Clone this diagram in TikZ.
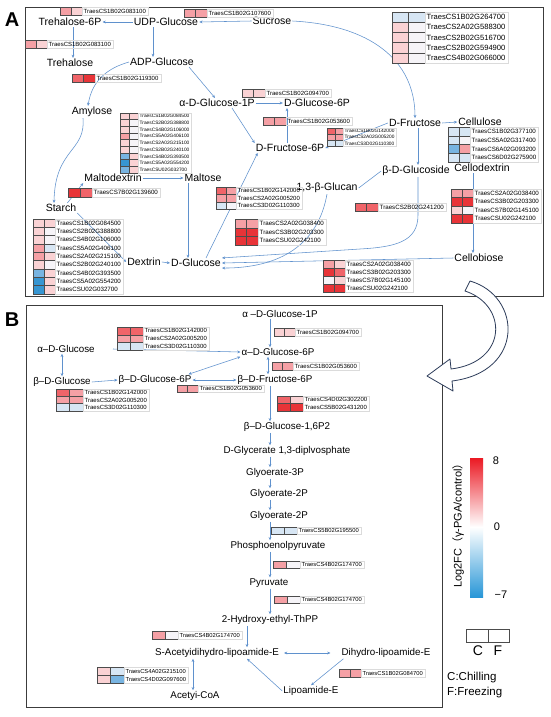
\documentclass[tikz,border=0pt]{standalone}
\usepackage{fontspec}
\setmainfont{Liberation Sans}
\newfontfamily\cjkfont{Noto Sans CJK SC}
\usetikzlibrary{arrows.meta}
\definecolor{hR3}{RGB}{232,52,56}
\definecolor{hR2}{RGB}{240,100,105}
\definecolor{hR1}{RGB}{245,160,165}
\definecolor{hR0}{RGB}{250,210,212}
\definecolor{hW}{RGB}{246,244,248}
\definecolor{hB0}{RGB}{215,230,244}
\definecolor{hB1}{RGB}{120,180,225}
\definecolor{hB2}{RGB}{55,150,210}
\definecolor{conn}{RGB}{95,145,205}
\definecolor{frameC}{RGB}{60,60,60}
\definecolor{bigarrow}{RGB}{45,60,90}
\definecolor{cbR}{RGB}{235,25,35}
\definecolor{cbB}{RGB}{40,150,215}
\tikzset{
 met/.style={font=\fontsize{10.5}{12}\selectfont, inner sep=1pt},
 metb/.style={font=\fontsize{9.8}{11}\selectfont, inner sep=1pt},
 con/.style={draw=conn, line width=0.55pt, -{Stealth[length=3.2pt,width=2.8pt]}},
 dcon/.style={draw=conn, line width=0.55pt, {Stealth[length=3.2pt,width=2.8pt]}-{Stealth[length=3.2pt,width=2.8pt]}},
 pcon/.style={draw=conn, line width=0.55pt},
 cellline/.style={draw=black!70, line width=0.4pt},
 genelab/.style={anchor=west, inner sep=0pt},
 labbox/.style={draw=black!14, line width=0.3pt},
 panelframe/.style={draw=frameC, line width=0.8pt},
 panellab/.style={font=\fontsize{20}{22}\selectfont\bfseries},
}
% heatmap: x y cellw cellh fontsize nrows list
\newcommand{\hmap}[7]{%
 \foreach [count=\i] \cL/\cR/\lab in {#7} {
   \fill[fill=\cL] ({#1},{#2+(\i-1)*#4}) rectangle ++({#3},{#4});
   \fill[fill=\cR] ({#1+#3},{#2+(\i-1)*#4}) rectangle ++({#3},{#4});
   \draw[cellline] ({#1},{#2+(\i-1)*#4}) rectangle ++({#3},{#4});
   \draw[cellline] ({#1+#3},{#2+(\i-1)*#4}) rectangle ++({#3},{#4});
   \node[genelab, font=\fontsize{#5}{#5}\selectfont] at ({#1+2*#3+1.5},{#2+(\i-0.5)*#4}) {\lab};
 }
 \draw[labbox] ({#1+2*#3},{#2}) rectangle ++({10.5*#5+3},{#6*#4});
}
\begin{document}
\begin{tikzpicture}[x=1pt,y=-1pt]
\useasboundingbox (0,0) rectangle (550,717);
\fill[white] (0,0) rectangle (550,717);

% frames
\draw[panelframe] (25,7) rectangle (543,296);
\draw[panelframe] (26,305) rectangle (442,707);
\node[panellab] (labA) at (12,20) {A};
\node[panellab] (labB) at (12,320) {B};

% helper x positions
\coordinate (ax1) at (73,0);
\coordinate (ax2) at (153,0);
\coordinate (ax3) at (287,0);
\coordinate (ax4) at (418,0);
\coordinate (ax5) at (188,0);
\coordinate (ax6) at (473,0);
\coordinate (vx) at (270,0);
\coordinate (vx2) at (268,0);
\coordinate (vx3) at (247,0);
\coordinate (vx4) at (193,0);
\coordinate (vx5) at (62,0);
\coordinate (sx) at (113,0);

% ---------- Panel A nodes
\node[met] (t6p) at (70,22) {Trehalose-6P};
\node[met] (udpg) at (166,22) {UDP-Glucose};
\node[met] (suc) at (272,21) {Sucrose};
\node[met] (tre) at (70,63) {Trehalose};
\node[met] (adpg) at (162,62) {ADP-Glucose};
\node[met] (amy) at (92,112) {Amylose};
\node[met] (ag1p) at (217,103) {α-D-Glucose-1P};
\node[met] (g6p) at (317,103) {D-Glucose-6P};
\node[met] (f6p) at (290,148) {D-Fructose-6P};
\node[met] (fru) at (415,123) {D-Fructose};
\node[met] (cel) at (480,122) {Cellulose};
\node[met] (bgl) at (416,171) {β-D-Glucoside};
\node[met] (cdx) at (482,168) {Cellodextrin};
\node[met] (mdx) at (113,178) {Maltodextrin};
\node[met] (mal) at (203,178) {Maltose};
\node[met] (glc13) at (327,188) {1,3-β-Glucan};
\node[met] (sta) at (61,208) {Starch};
\node[met] (dex) at (144,262) {Dextrin};
\node[met] (glc) at (196,263) {D-Glucose};
\node[met] (cbi) at (479,258) {Cellobiose};

% ---------- Panel A connectors
\draw[con] (udpg.west) -- (t6p.east);
\draw[con] (suc.west) -- (udpg.east);
\draw[con] (t6p.south -| ax1) -- (tre.north -| ax1);
\draw[con] (udpg.south -| ax2) -- (adpg.north -| ax2);
\draw[con] (adpg.west) .. controls (108,68) and (92,80) .. ([xshift=-4pt]amy.north);
\draw[con] ([xshift=-6pt]adpg.south east) -- ([xshift=-2pt]ag1p.north);
\draw[con] (suc.east) .. controls (370,25) and (415,60) .. (fru.north);
\draw[con] (ag1p.east) -- (g6p.west);
\draw[con] (f6p.north -| ax3) -- (g6p.south -| ax3);
\draw[con] ([xshift=15pt]ag1p.south) -- (f6p.north west);
\draw[con] (fru.west) -- (f6p.east);
\draw[con] (fru.east) -- (cel.west);
\draw[con] (fru.south -| ax4) -- (bgl.north -| ax4);
\draw[con] ([xshift=10pt]glc.north) -- ([xshift=3pt]f6p.south west);
\draw[con] (mdx.east) -- (mal.west);
\draw[con] ([xshift=-10pt]sta.north east) -- (mdx.south west);
\draw[con] ([xshift=-9pt]amy.south) .. controls (86,152) and (55,148) .. ([xshift=-7pt]sta.north);
\draw[con] (sta.south east) -- (dex.west);
\draw[con] (dex.east) -- (glc.west);
\draw[con] (mal.south -| ax5) -- (glc.north -| ax5);
\draw[con] (glc13.south) .. controls (318,245) and (280,268) .. (glc.south east);
\draw[con] (bgl.south -| ax4) -- (418,215) .. controls (418,242) and (395,247) .. (360,249) -- (glc.north east);
\draw[pcon] (bgl.west) -- (glc13.east);
\draw[con] (cdx.south -| ax6) -- (cbi.north -| ax6);
\draw[con] (cbi.west) -- (glc.east);

% ---------- Panel A heatmaps
\hmap{60}{7}{11}{8}{6}{1}{hR1/hR0/TraesCS1B02G083100}
\hmap{184}{9}{11.5}{8}{6}{1}{hR1/hR1/TraesCS1B02G107600}
\hmap{25}{40}{11}{8}{6}{1}{hR1/hR0/TraesCS1B02G083100}
\hmap{72}{74}{11.5}{8}{6}{1}{hR2/hR3/TraesCS1B02G119300}
\hmap{392}{12}{16.5}{10.2}{7.6}{5}{hB0/hB0/TraesCS1B02G264700, hR0/hW/TraesCS2A02G588300, hR0/hW/TraesCS2B02G516700, hR0/hW/TraesCS2B02G594900, hR0/hW/TraesCS4B02G066000}
\hmap{120}{113}{9}{6.67}{4.8}{9}{hR0/hR0/TraesCS1B02G084500, hR0/hW/TraesCS2B02G388800, hR0/hW/TraesCS4B02G106000, hR1/hW/TraesCS5A02G406100, hR0/hW/TraesCS2A02G215100, hR0/hW/TraesCS2B02G240100, hB1/hR0/TraesCS4B02G393500, hB2/hR0/TraesCS5A02G554200, hB1/hR0/TraesCSU02G032700}
\hmap{242}{89}{11.5}{8}{6}{1}{hR0/hR0/TraesCS1B02G094700}
\hmap{263}{117}{11.5}{8}{6}{1}{hR1/hR1/TraesCS1B02G053600}
\hmap{327}{128}{8}{6.2}{4.8}{3}{hR2/hR1/TraesCS1B02G142000, hR1/hR1/TraesCS2A02G005200, hB0/hB0/TraesCS3D02G110300}
\hmap{448}{127}{11}{8.75}{6.2}{4}{hB0/hB0/TraesCS1B02G377100, hB0/hW/TraesCS5A02G317400, hB1/hR1/TraesCS6A02G093200, hB0/hB0/TraesCS6D02G275900}
\hmap{68}{188}{12}{9}{6.2}{1}{hR3/hR2/TraesCS7B02G139600}
\hmap{216}{187}{10}{7.5}{6}{3}{hR2/hR1/TraesCS1B02G142000, hR1/hR1/TraesCS2A02G005200, hB0/hW/TraesCS3D02G110300}
\hmap{235}{219}{11.5}{8.7}{6.2}{3}{hR1/hR1/TraesCS2A02G038400, hR3/hR3/TraesCS3B02G203300, hR3/hR3/TraesCSU02G242100}
\hmap{355}{203}{11.5}{8.5}{6.2}{1}{hR2/hR2/TraesCS2B02G241200}
\hmap{451}{189}{11}{8.5}{6.2}{4}{hR1/hR1/TraesCS2A02G038400, hR3/hR3/TraesCS3B02G203300, hR0/hW/TraesCS7B02G145100, hR3/hR3/TraesCSU02G242100}
\hmap{323}{260}{11}{8}{6.2}{4}{hR1/hR0/TraesCS2A02G038400, hR3/hR2/TraesCS3B02G203300, hW/hR0/TraesCS7B02G145100, hR3/hR3/TraesCSU02G242100}
\hmap{33}{219}{11}{8.3}{6.2}{9}{hR0/hR0/TraesCS1B02G084500, hR0/hW/TraesCS2B02G388800, hR0/hW/TraesCS4B02G106000, hR1/hB0/TraesCS5A02G406100, hR1/hR0/TraesCS2A02G215100, hR0/hW/TraesCS2B02G240100, hB1/hR0/TraesCS4B02G393500, hB2/hR0/TraesCS5A02G554200, hB2/hR0/TraesCSU02G032700}

% ---------- big hollow arrow between panels
\draw[bigarrow, line width=0.8pt, fill=white, line join=round]
 (470,281) .. controls (522,296) and (525,372) .. (452,381) -- (453,391) -- (427,376) -- (450,359) -- (451,369)
 .. controls (508,362) and (508,305) .. (465,291) -- cycle;

% ---------- Panel B nodes
\node[metb] (bag) at (66,349) {α–D-Glucose};
\node[metb] (bbg) at (62,382) {β–D-Glucose};
\node[metb] (bbg6) at (155,380) {β–D-Glucose-6P};
\node[metb] (ba1p) at (280,314) {α –D-Glucose-1P};
\node[metb] (ba6p) at (278,352) {α–D-Glucose-6P};
\node[metb] (bf6p) at (275,380) {β–D-Fructose-6P};
\node[metb] (bg16) at (287,427) {β–D-Glucose-1,6P2};
\node[metb] (bdg) at (287,451) {D-Glycerate 1,3-diplvosphate};
\node[metb] (bg3p) at (275,473) {Glyoerate-3P};
\node[metb] (bg2p) at (279,494) {Glyoerate-2P};
\node[metb] (bg2pb) at (279,516) {Glyoerate-2P};
\node[metb] (bpep) at (278,546) {Phosphoenolpyruvate};
\node[metb] (bpyr) at (269,583) {Pyruvate};
\node[metb] (bhet) at (270,620) {2-Hydroxy-ethyl-ThPP};
\node[metb] (bsac) at (217,653) {S-Acetyidihydro-lipoamide-E};
\node[metb] (bdhl) at (386,653) {Dihydro-lipoamide-E};
\node[metb] (blip) at (311,691) {Lipoamide-E};
\node[metb] (bacc) at (195,696) {Acetyi-CoA};

% ---------- Panel B connectors
\draw[dcon] (bag.south -| vx5) -- (bbg.north -| vx5);
\draw[con] (bag.east -| sx) -- (ba6p.west);
\draw[dcon] ([xshift=-4pt]bbg6.north east) -- (ba6p.south west);
\draw[con] (bbg.east) -- (bbg6.west);
\draw[dcon] (bbg6.east) -- (bf6p.west);
\draw[con] (ba1p.south -| vx) -- (ba6p.north -| vx);
\draw[dcon] (ba6p.south -| vx2) -- (bf6p.north -| vx2);
\draw[con] (bf6p.south -| vx) -- (bg16.north -| vx);
\draw[con] (bg16.south -| vx) -- (bdg.north -| vx);
\draw[con] (bdg.south -| vx) -- (bg3p.north -| vx);
\draw[con] (bg3p.south -| vx) -- (bg2p.north -| vx);
\draw[con] (bg2p.south -| vx) -- (bg2pb.north -| vx);
\draw[con] (bg2pb.south -| vx) -- (bpep.north -| vx);
\draw[con] (bpep.south -| vx) -- (bpyr.north -| vx);
\draw[con] (bpyr.south -| vx) -- (bhet.north -| vx);
\draw[con] (bhet.south -| vx3) -- (bsac.north -| vx3);
\draw[dcon, shorten <=4pt, shorten >=10pt] (bsac.east) -- (bdhl.west);
\draw[con] ([xshift=3pt]bdhl.south west) -- (blip.north);
\draw[con] (blip.west) -- ([xshift=-33pt]bsac.south east);
\draw[dcon] (bsac.south -| vx4) -- (bacc.north -| vx4);

% ---------- Panel B heatmaps
\hmap{117}{327}{13}{7.7}{6}{3}{hR2/hR2/TraesCS1B02G142000, hR1/hR1/TraesCS2A02G005200, hB0/hB0/TraesCS3D02G110300}
\hmap{56}{389}{13.5}{7.3}{6}{3}{hR2/hR1/TraesCS1B02G142000, hR1/hR1/TraesCS2A02G005200, hB0/hB0/TraesCS3D02G110300}
\hmap{177}{385}{10.5}{7.5}{6}{1}{hR1/hR1/TraesCS1B02G053600}
\hmap{274}{328}{10.5}{8}{6}{1}{hR0/hR0/TraesCS1B02G094700}
\hmap{272}{362}{10.5}{8}{6}{1}{hR1/hR1/TraesCS1B02G053600}
\hmap{277}{396}{13}{7.5}{6}{2}{hR2/hR0/TraesCS4D02G302200, hR3/hR3/TraesCS5B02G431200}
\hmap{271}{527}{13}{7.5}{5.8}{1}{hB0/hB0/TraesCS5B02G195500}
\hmap{273}{561}{13.5}{7.5}{5.8}{1}{hR1/hW/TraesCS4B02G174700}
\hmap{274}{596}{13}{7.5}{5.8}{1}{hR1/hW/TraesCS4B02G174700}
\hmap{152}{631}{13}{8}{5.8}{1}{hR1/hW/TraesCS4B02G174700}
\hmap{339}{669}{11}{8}{5.8}{1}{hR1/hR1/TraesCS1B02G084700}
\hmap{97}{667}{13.5}{8}{5.8}{2}{hR0/hB0/TraesCS4A02G215100, hR0/hB1/TraesCS4D02G097600}

% ---------- colour bar
\shade[top color=cbR, bottom color=white] (470,458) rectangle (483,527);
\shade[top color=white, bottom color=cbB] (470,527) rectangle (483,597);
\node[font=\fontsize{11}{12}\selectfont] (cb8) at (496,461) {8};
\node[font=\fontsize{11}{12}\selectfont] (cb0) at (497,527) {0};
\node[font=\fontsize{11}{12}\selectfont] (cbm7) at (501,595) {−7};
\node[rotate=90, font=\fontsize{11}{12}\selectfont] (cblab) at (458,523) {Log2FC{\cjkfont （}γ-PGA/control{\cjkfont ）}};

% ---------- legend
\draw[cellline, fill=white] (466,629) rectangle (488,642);
\draw[cellline, fill=white] (488,629) rectangle (509,642);
\node[font=\fontsize{14}{15}\selectfont] (legC) at (478,651) {C};
\node[font=\fontsize{14}{15}\selectfont] (legF) at (498,651) {F};
\node[anchor=west, inner sep=0pt, font=\fontsize{11.5}{13}\selectfont] (chil) at (447,678) {C:Chilling};
\node[anchor=west, inner sep=0pt, font=\fontsize{11.5}{13}\selectfont] (frez) at (447,693) {F:Freezing};
\end{tikzpicture}
\end{document}
